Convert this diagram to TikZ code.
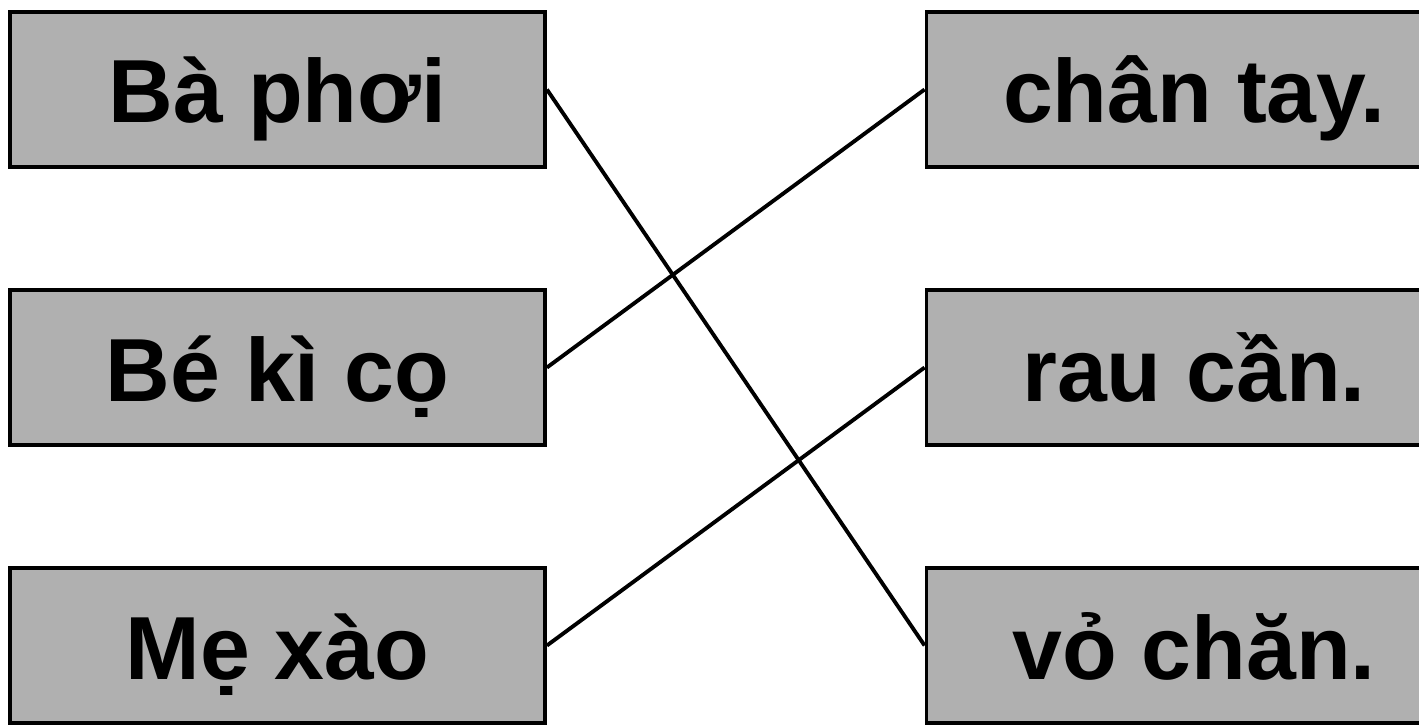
\documentclass[tikz,border=0pt]{standalone}
\usepackage{fontspec}
\setmainfont{Liberation Sans}
\usetikzlibrary{positioning}
\definecolor{boxgray}{RGB}{176,176,176}

\begin{document}
\begin{tikzpicture}[auto,every node/.style={on grid,node distance=5.56cm},
    word/.style={draw,line width=2.2pt,fill=boxgray,minimum width=10.7cm,
      minimum height=3.1cm,inner sep=0pt,text height=1.34cm,text depth=0pt,
      font=\fontsize{51}{60}\selectfont\bfseries},
    link/.style={line width=2.2pt}]
    \useasboundingbox (0,0) rectangle (28.38,14.54);
    \clip (0,0) rectangle (28.38,14.54);
    \node[word] (ba) at (5.55,12.75) {Bà phơi};
    \node[word,below=of ba] (be) {Bé kì cọ};
    \node[word,below=of be] (me) {Mẹ xào};
    \node[word] (chantay) at (23.88,12.75) {chân tay.};
    \node[word,below=of chantay] (raucan) {rau cần.};
    \node[word,below=of raucan] (vochan) {vỏ chăn.};
    \draw[link] (ba.east) -- (vochan.west);
    \draw[link] (be.east) -- (chantay.west);
    \draw[link] (me.east) -- (raucan.west);
  \end{tikzpicture}
\end{document}
